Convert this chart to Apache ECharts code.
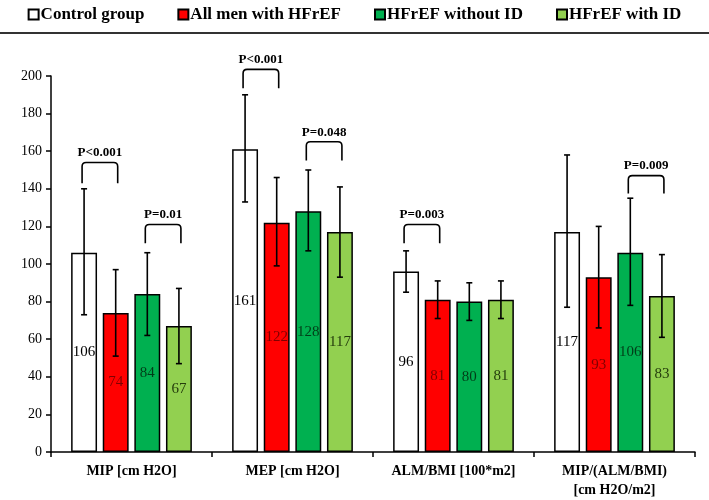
<!DOCTYPE html>
<html>
<head>
<meta charset="utf-8">
<script src="https://cdn.jsdelivr.net/npm/echarts@6/dist/echarts.min.js"></script>
<style>html,body{margin:0;padding:0;background:#fff}#c{width:709px;height:500px}</style>
</head>
<body>
<div id="c"></div>
<script>
var categories = ['MIP [cm H2O]', 'MEP [cm H2O]', 'ALM/BMI [100*m2]', 'MIP/(ALM/BMI)\n[cm H2O/m2]'];
var seriesNames = ['Control group', 'All men with HFrEF', 'HFrEF without ID', 'HFrEF with ID'];
var controlVals = [106, 161, 96, 117];
var allMenVals = [74, 122, 81, 93];
var withoutIdVals = [84, 128, 80, 106];
var withIdVals = [67, 117, 81, 83];
// error bar ranges [low, high]
var controlErr = [[73, 140], [133, 190], [85, 107], [77, 158]];
var allMenErr = [[51, 97], [99, 146], [71, 91], [66, 120]];
var withoutIdErr = [[62, 106], [107, 150], [70, 90], [78, 135]];
var withIdErr = [[47, 87], [93, 141], [71, 91], [61, 105]];
// brackets: [category, fromBar, toBar, topValue, legBottomValue, label]
var brackets = [
  [0, 0, 1, 154, 143, 'P<0.001'],
  [0, 2, 3, 121, 111, 'P=0.01'],
  [1, 0, 1, 203.5, 193.5, 'P<0.001'],
  [1, 2, 3, 165, 155, 'P=0.048'],
  [2, 0, 1, 121, 111, 'P=0.003'],
  [3, 2, 3, 147, 137.5, 'P=0.009']
];
var yTicks = {min: 0, max: 200, interval: 20};

var FONT = 'Liberation Serif';
var colors = ['#FFFFFF', '#FF0000', '#00B050', '#92D050'];
var labelColors = ['#000000', '#800000', '#003d18', '#253d0d'];
var valsAll = [controlVals, allMenVals, withoutIdVals, withIdVals];
var errAll = [controlErr, allMenErr, withoutIdErr, withIdErr];
var CAT_GAP = 0.25, BAR_GAP = 0.22;

function barX(api, cat, idx) {
  var cx = api.coord([cat, 0])[0];
  var cw = api.size([1, 0])[0];
  var bw = cw * (1 - CAT_GAP) / (4 + 3 * BAR_GAP);
  var step = bw * (1 + BAR_GAP);
  return cx + (idx - 1.5) * step;
}

var errData = [];
errAll.forEach(function (arr, s) {
  arr.forEach(function (e, c) { errData.push([c, s, e[0], e[1]]); });
});

var series = valsAll.map(function (v, i) {
  return {
    name: seriesNames[i], type: 'bar', data: v,
    barCategoryGap: (CAT_GAP * 100) + '%', barGap: (BAR_GAP * 100) + '%',
    itemStyle: {color: colors[i], borderColor: '#000', borderWidth: 1.5},
    label: {show: true, position: 'inside', fontFamily: FONT, fontSize: 15, color: labelColors[i]}
  };
});

series.push({
  type: 'custom', name: 'err', z: 5, silent: true,
  data: errData,
  renderItem: function (params, api) {
    var x = barX(api, api.value(0), api.value(1));
    var yl = api.coord([api.value(0), api.value(2)])[1];
    var yh = api.coord([api.value(0), api.value(3)])[1];
    var st = {stroke: '#000', lineWidth: 1.6};
    return {type: 'group', children: [
      {type: 'line', shape: {x1: x, y1: yl, x2: x, y2: yh}, style: st},
      {type: 'line', shape: {x1: x - 3, y1: yl, x2: x + 3, y2: yl}, style: st},
      {type: 'line', shape: {x1: x - 3, y1: yh, x2: x + 3, y2: yh}, style: st}
    ]};
  }
});

series.push({
  type: 'custom', name: 'brackets', z: 5, silent: true,
  data: brackets.map(function (b) { return [b[0], b[1], b[2], b[3], b[4]]; }),
  renderItem: function (params, api) {
    var b = brackets[params.dataIndex];
    var x1 = barX(api, b[0], b[1]) - 2;
    var x2 = barX(api, b[0], b[2]) + 2;
    var yt = api.coord([b[0], b[3]])[1];
    var yb = api.coord([b[0], b[4]])[1];
    var r = 4;
    var d = 'M' + x1 + ' ' + yb + ' L' + x1 + ' ' + (yt + r) + ' Q' + x1 + ' ' + yt + ' ' + (x1 + r) + ' ' + yt +
      ' L' + (x2 - r) + ' ' + yt + ' Q' + x2 + ' ' + yt + ' ' + x2 + ' ' + (yt + r) + ' L' + x2 + ' ' + yb;
    return {type: 'group', children: [
      {type: 'path', shape: {pathData: d}, style: {stroke: '#000', lineWidth: 1.6, fill: null}},
      {type: 'text', style: {text: b[5], x: (x1 + x2) / 2, y: yt - 3, textAlign: 'center', textVerticalAlign: 'bottom',
        font: 'bold 13px "' + FONT + '"', fill: '#000'}}
    ]};
  }
});

var chart = echarts.init(document.getElementById('c'), null, {renderer: 'canvas'});
chart.setOption({
  animation: false,
  backgroundColor: '#fff',
  legend: {
    data: seriesNames, top: 1, left: 'center', icon: 'rect', itemWidth: 10, itemHeight: 10, itemGap: 33,
    textStyle: {fontFamily: FONT, fontWeight: 'bold', fontSize: 17, color: '#000', padding: [0, 0, 0, -3]}
  },
  graphic: [{type: 'line', shape: {x1: 0, y1: 33, x2: 709, y2: 33}, style: {stroke: '#333', lineWidth: 2}}],
  grid: {left: 51, right: 14, top: 76, bottom: 47},
  xAxis: {
    type: 'category', data: categories,
    axisLine: {lineStyle: {color: '#000', width: 1.5}},
    axisTick: {show: true, length: 5, lineStyle: {color: '#000', width: 1.5}},
    axisLabel: {interval: 0, fontFamily: FONT, fontWeight: 'bold', fontSize: 14, color: '#000', margin: 10, lineHeight: 19}
  },
  yAxis: {
    type: 'value', min: yTicks.min, max: yTicks.max, interval: yTicks.interval,
    splitLine: {show: false},
    axisLine: {show: true, lineStyle: {color: '#000', width: 1.5}},
    axisTick: {show: true, length: 5, lineStyle: {color: '#000', width: 1.5}},
    axisLabel: {fontFamily: FONT, fontSize: 14, color: '#000', margin: 9}
  },
  series: series
});
</script>
</body>
</html>
